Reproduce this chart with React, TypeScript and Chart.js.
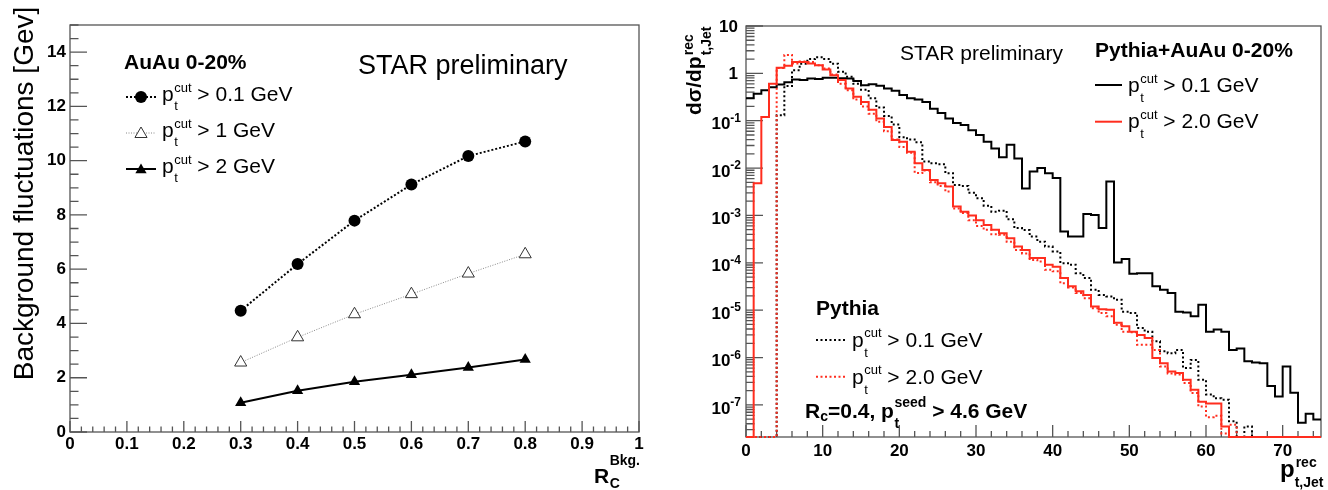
import { useEffect, useRef } from 'react';
import { Chart, registerables } from 'chart.js';

Chart.register(...registerables);

const SANS = '"Liberation Sans", Arial, Helvetica, sans-serif';
const font = (size: number, bold = false) => `${bold ? 'bold ' : ''}${size}px ${SANS}`;

const FRAME = '#555555';
const RED = '#ff2d1e';
const PANEL_W = 664;
const RIGHT_X0 = 664;

// ---------- left panel: background fluctuations vs R_C ----------
const rcBkg = [0.3, 0.4, 0.5, 0.6, 0.7, 0.8];
const fluctCut01 = [4.47, 6.19, 7.79, 9.12, 10.17, 10.71];
const fluctCut1 = [2.56, 3.49, 4.34, 5.08, 5.84, 6.55];
const fluctCut2 = [1.08, 1.52, 1.85, 2.11, 2.38, 2.67];
const rcTicks = [0, 0.1, 0.2, 0.3, 0.4, 0.5, 0.6, 0.7, 0.8, 0.9, 1];
const rcTickLabels = ['0', '0.1', '0.2', '0.3', '0.4', '0.5', '0.6', '0.7', '0.8', '0.9', '1'];
const fluctTicks = [0, 2, 4, 6, 8, 10, 12, 14];

// ---------- right panel: reconstructed jet pt spectra, 1 GeV bins ----------
const ptBinEdges = Array.from({ length: 76 }, (_, i) => i);
const auauCut01 = [
  0.30, 0.37, 0.44, 0.51, 0.58, 0.65, 0.74, 0.72, 0.78, 0.76,
  0.81, 0.81, 0.79, 0.78, 0.69, 0.56, 0.59, 0.55, 0.48, 0.43,
  0.35, 0.30, 0.28, 0.25, 0.18, 0.145, 0.112, 0.089, 0.081, 0.063,
  0.050, 0.036, 0.026, 0.017, 0.031, 0.016, 0.0037, 0.0085, 0.010, 0.0078,
  0.0062, 4.6e-4, 3.6e-4, 3.6e-4, 1.07e-3, 1.02e-3, 5.4e-4, 5.2e-3, 1.02e-4, 1.2e-4,
  5.9e-5, 6.0e-5, 6.0e-5, 3.2e-5, 2.7e-5, 2.3e-5, 9.3e-6, 8.9e-6, 7.4e-6, 1.3e-5,
  3.5e-6, 3.9e-6, 3.5e-6, 1.45e-6, 1.55e-6, 8.3e-7, 7.9e-7, 7.6e-7, 2.5e-7, 1.5e-7,
  6.5e-7, 1.8e-7, 4.2e-8, 6.5e-8, 4.9e-8,
];
const auauCut2 = [
  0, 4.8e-3, 0.12, 0.60, 1.32, 1.45, 1.74, 1.74, 1.62, 1.48,
  1.20, 0.91, 0.72, 0.48, 0.32, 0.25, 0.17, 0.112, 0.074, 0.039,
  0.036, 0.022, 0.0126, 0.0091, 0.0056, 0.0048, 0.0041, 0.00155, 0.0012, 0.0010,
  7.9e-4, 6.3e-4, 5.0e-4, 4.2e-4, 3.3e-4, 2.2e-4, 1.86e-4, 1.26e-4, 1.26e-4, 9.1e-5,
  8.3e-5, 4.8e-5, 3.2e-5, 2.5e-5, 2.1e-5, 1.2e-5, 1.05e-5, 1.02e-5, 5.4e-6, 4.6e-6,
  3.5e-6, 3.0e-6, 2.6e-6, 9.8e-7, 7.6e-7, 5.1e-7, 4.7e-7, 3.4e-7, 2.1e-7, 1.17e-7,
  1.07e-7, 1.07e-7, 3.5e-8, 0, 0, 0, 0, 0, 0, 0,
  0, 0, 0, 0, 0,
];
const pythiaCut01 = [
  0, 0, 0, 0, 0.13, 0.54, 1.17, 1.6, 2.0, 2.2,
  2.0, 1.6, 1.08, 0.85, 0.60, 0.45, 0.30, 0.19, 0.126, 0.083,
  0.045, 0.040, 0.035, 0.0138, 0.0126, 0.012, 0.0078, 0.0044, 0.0042, 0.0030,
  0.0023, 0.0016, 0.0012, 0.00126, 8.3e-4, 5.4e-4, 4.9e-4, 3.6e-4, 2.8e-4, 2.2e-4,
  1.74e-4, 9.8e-5, 9.1e-5, 6.0e-5, 4.8e-5, 2.7e-5, 2.1e-5, 1.95e-5, 1.66e-5, 9.3e-6,
  8.7e-6, 4.2e-6, 3.5e-6, 2.2e-6, 1.35e-6, 1.23e-6, 1.45e-6, 6.0e-7, 8.9e-7, 3.4e-7,
  1.66e-7, 1.38e-7, 1.29e-7, 4.5e-8, 0, 3.5e-8, 0, 0, 0, 0,
  0, 0, 0, 0, 0,
];
const pythiaCut2 = [
  0, 0, 0, 0, 1.29, 2.45, 1.62, 1.78, 1.74, 1.48,
  1.26, 0.95, 0.60, 0.44, 0.28, 0.20, 0.141, 0.095, 0.060, 0.040,
  0.028, 0.021, 0.0079, 0.0089, 0.0050, 0.0042, 0.0032, 0.00141, 0.00112, 7.9e-4,
  6.0e-4, 5.0e-4, 4.0e-4, 3.9e-4, 2.8e-4, 1.86e-4, 1.58e-4, 1.15e-4, 1.07e-4, 7.1e-5,
  6.6e-5, 3.7e-5, 3.0e-5, 2.3e-5, 1.78e-5, 1.1e-5, 8.7e-6, 7.4e-6, 4.9e-6, 3.5e-6,
  3.4e-6, 1.86e-6, 1.86e-6, 1.45e-6, 6.5e-7, 4.6e-7, 4.4e-7, 2.9e-7, 1.78e-7, 9.3e-8,
  5.5e-8, 5.9e-8, 2.5e-8, 3.8e-8, 0, 0, 0, 0, 0, 0,
  0, 0, 0, 0, 0,
];
const ptTicks = [0, 10, 20, 30, 40, 50, 60, 70];
const decadeExponents = [1, 0, -1, -2, -3, -4, -5, -6, -7];

const Y_LOG_MIN = 2.1e-8;
const Y_LOG_MAX = 10;

// histogram outline: one point per lower bin edge plus the closing edge;
// empty bins sit on the bottom of the frame
const stepPoints = (vals: number[]) => {
  const pts = vals.map((v, i) => ({ x: ptBinEdges[i], y: v > 0 ? v : Y_LOG_MIN }));
  pts.push({ x: ptBinEdges[vals.length], y: pts[pts.length - 1].y });
  return pts;
};

// ---------- drawing helpers ----------
function text(ctx: CanvasRenderingContext2D, s: string, x: number, y: number, f: string,
  align: CanvasTextAlign = 'left', base: CanvasTextBaseline = 'alphabetic') {
  ctx.font = f;
  ctx.textAlign = align;
  ctx.textBaseline = base;
  ctx.fillText(s, x, y);
  return ctx.measureText(s).width;
}

// "p" with a superscript and subscript stacked after it, then the rest of the line
function ptLabel(ctx: CanvasRenderingContext2D, x: number, y: number, sup: string, sub: string,
  tail: string, size: number, bold: boolean, scriptSize: number, raise: number, drop: number) {
  ctx.fillStyle = '#000';
  let cx = x + text(ctx, 'p', x, y, font(size, bold)) + 0.5;
  const w1 = text(ctx, sup, cx, y - raise, font(scriptSize, bold));
  const w2 = text(ctx, sub, cx, y + drop, font(scriptSize, bold));
  cx += Math.max(w1, w2);
  text(ctx, tail, cx, y, font(size, bold));
}

function triangle(ctx: CanvasRenderingContext2D, cx: number, cy: number, r: number) {
  ctx.beginPath();
  ctx.moveTo(cx, cy - r);
  ctx.lineTo(cx + 0.866 * r, cy + 0.5 * r);
  ctx.lineTo(cx - 0.866 * r, cy + 0.5 * r);
  ctx.closePath();
}

function frameAndTicks(chart: any, xMajor: number[], xMinor: number[], yMajor: number[], yMinor: number[],
  xLen: number, yLen: number) {
  const { ctx, chartArea: a, scales } = chart;
  const xs = scales.x;
  const ys = scales.y;
  ctx.save();
  ctx.strokeStyle = FRAME;
  ctx.lineWidth = 1.3;
  ctx.setLineDash([]);
  ctx.strokeRect(a.left, a.top, a.right - a.left, a.bottom - a.top);
  ctx.beginPath();
  xMajor.forEach((v) => { const p = xs.getPixelForValue(v); ctx.moveTo(p, a.bottom); ctx.lineTo(p, a.bottom - xLen); });
  xMinor.forEach((v) => { const p = xs.getPixelForValue(v); ctx.moveTo(p, a.bottom); ctx.lineTo(p, a.bottom - xLen / 2); });
  yMajor.forEach((v) => { const p = ys.getPixelForValue(v); ctx.moveTo(a.left, p); ctx.lineTo(a.left + yLen, p); });
  yMinor.forEach((v) => { const p = ys.getPixelForValue(v); ctx.moveTo(a.left, p); ctx.lineTo(a.left + yLen / 2, p); });
  ctx.stroke();
  ctx.restore();
}

const range = (from: number, to: number, step: number) => {
  const out: number[] = [];
  for (let v = from; v <= to + 1e-9; v += step) out.push(Math.round(v * 1000) / 1000);
  return out;
};

// ---------- left chart ----------
const leftDecor = {
  id: 'leftDecor',
  beforeDatasetsDraw(chart: any) {
    frameAndTicks(chart, rcTicks, range(0, 1, 0.02), fluctTicks, range(0, 15, 0.5), 11, 17);
  },
  afterDatasetsDraw(chart: any) {
    const { ctx, chartArea: a, scales } = chart;
    ctx.save();
    ctx.fillStyle = '#000';
    rcTicks.forEach((v, i) => text(ctx, rcTickLabels[i], scales.x.getPixelForValue(v), 444, font(17, true), 'center', 'middle'));
    fluctTicks.forEach((v) => text(ctx, String(v), a.left - 4, scales.y.getPixelForValue(v), font(17, true), 'right', 'middle'));

    // y axis title
    ctx.save();
    ctx.translate(33, 193.5);
    ctx.rotate(-Math.PI / 2);
    text(ctx, 'Background fluctuations [Gev]', 0, 0, font(28), 'center');
    ctx.restore();

    // x axis title R_C^Bkg.
    const rw = text(ctx, 'R', 594, 483, font(21, true));
    text(ctx, 'Bkg.', 594 + rw + 0.5, 465, font(14, true));
    text(ctx, 'C', 594 + rw + 0.5, 488, font(14, true));

    text(ctx, 'STAR preliminary', 358, 74, font(27));
    text(ctx, 'AuAu 0-20%', 124, 69, font(21, true));

    // legend
    const rows = [97, 133, 169];
    const x0 = 126, x1 = 156, mx = 141;
    // row 1
    ctx.strokeStyle = '#000'; ctx.lineWidth = 2; ctx.setLineDash([2, 2]);
    ctx.beginPath(); ctx.moveTo(x0, rows[0]); ctx.lineTo(x1, rows[0]); ctx.stroke();
    ctx.setLineDash([]);
    ctx.beginPath(); ctx.arc(mx, rows[0], 6, 0, Math.PI * 2); ctx.fillStyle = '#000'; ctx.fill();
    // row 2
    ctx.strokeStyle = '#888'; ctx.lineWidth = 1; ctx.setLineDash([1, 1.5]);
    ctx.beginPath(); ctx.moveTo(x0, rows[1]); ctx.lineTo(x1, rows[1]); ctx.stroke();
    ctx.setLineDash([]);
    triangle(ctx, mx, rows[1] + 1, 7); ctx.fillStyle = '#fff'; ctx.fill(); ctx.strokeStyle = '#333'; ctx.lineWidth = 1; ctx.stroke();
    // row 3
    ctx.strokeStyle = '#000'; ctx.lineWidth = 2;
    ctx.beginPath(); ctx.moveTo(x0, rows[2]); ctx.lineTo(x1, rows[2]); ctx.stroke();
    triangle(ctx, mx, rows[2] + 1, 6.5); ctx.fillStyle = '#000'; ctx.fill();

    ptLabel(ctx, 162, rows[0] + 4, 'cut', 't', ' > 0.1 GeV', 21, false, 13, 9, 9);
    ptLabel(ctx, 162, rows[1] + 4, 'cut', 't', ' > 1 GeV', 21, false, 13, 9, 9);
    ptLabel(ctx, 162, rows[2] + 4, 'cut', 't', ' > 2 GeV', 21, false, 13, 9, 9);
    ctx.restore();
  },
};

function leftConfig(): any {
  const pts = (ys: number[]) => rcBkg.map((x, i) => ({ x, y: ys[i] }));
  return {
    type: 'line',
    data: {
      datasets: [
        {
          data: pts(fluctCut01), borderColor: '#000', borderWidth: 2, borderDash: [2, 2],
          pointStyle: 'circle', pointRadius: 6, pointBackgroundColor: '#000', pointBorderColor: '#000', pointBorderWidth: 0,
        },
        {
          data: pts(fluctCut1), borderColor: '#888', borderWidth: 1, borderDash: [1, 1.5],
          pointStyle: 'triangle', pointRadius: 7, pointBackgroundColor: '#fff', pointBorderColor: '#333', pointBorderWidth: 1,
        },
        {
          data: pts(fluctCut2), borderColor: '#000', borderWidth: 2,
          pointStyle: 'triangle', pointRadius: 6.5, pointBackgroundColor: '#000', pointBorderColor: '#000', pointBorderWidth: 0,
        },
      ],
    },
    options: {
      animation: false, responsive: false, devicePixelRatio: 1, events: [],
      layout: { padding: { left: 70, top: 25, right: PANEL_W - 639, bottom: 490 - 432 } },
      plugins: { legend: { display: false }, tooltip: { enabled: false } },
      scales: {
        x: { type: 'linear', min: 0, max: 1, display: false },
        y: { type: 'linear', min: 0, max: 15, display: false },
      },
    },
    plugins: [leftDecor],
  };
}

// ---------- right chart ----------
const logMinor: number[] = [];
for (let e = -8; e <= 0; e++) {
  for (let m = 2; m <= 9; m++) {
    const v = m * Math.pow(10, e);
    if (v >= Y_LOG_MIN && v <= Y_LOG_MAX) logMinor.push(v);
  }
}

const rightDecor = {
  id: 'rightDecor',
  beforeDatasetsDraw(chart: any) {
    frameAndTicks(chart, ptTicks, range(0, 74, 2), decadeExponents.map((e) => Math.pow(10, e)), logMinor, 12, 17);
  },
  afterDatasetsDraw(chart: any) {
    const { ctx, scales } = chart;
    ctx.save();
    ctx.translate(-RIGHT_X0, 0);
    ctx.fillStyle = '#000';
    ptTicks.forEach((v) => text(ctx, String(v), scales.x.getPixelForValue(v) + RIGHT_X0, 451, font(17, true), 'center', 'middle'));
    decadeExponents.forEach((e) => {
      const py = scales.y.getPixelForValue(Math.pow(10, e));
      if (e === 1) text(ctx, '10', 738, py + 1, font(17, true), 'right', 'middle');
      else if (e === 0) text(ctx, '1', 738, py + 1, font(17, true), 'right', 'middle');
      else {
        ctx.font = font(12, true);
        const ex = String(e);
        const w = ctx.measureText(ex).width;
        text(ctx, '10', 741 - w, py + 4, font(17, true), 'right', 'middle');
        text(ctx, ex, 741 - w, py - 2, font(12, true), 'left', 'middle');
      }
    });

    // y axis title
    ctx.save();
    ctx.translate(701, 115);
    ctx.rotate(-Math.PI / 2);
    const mw = text(ctx, 'dσ/dp', 0, 0, font(21, true));
    text(ctx, 'rec', mw + 1, -8, font(14, true));
    text(ctx, 't,Jet', mw + 1, 10, font(14, true));
    ctx.restore();

    // x axis title
    const pw = text(ctx, 'p', 1280, 477, font(24, true));
    text(ctx, 'rec', 1280 + pw + 1, 467, font(14, true));
    text(ctx, 't,Jet', 1280 + pw, 487, font(14, true));

    text(ctx, 'STAR preliminary', 900, 60, font(21));
    text(ctx, 'Pythia+AuAu 0-20%', 1095, 57, font(21, true));

    // top legend
    const topRows = [85, 121.7];
    ctx.setLineDash([]);
    ctx.lineWidth = 2;
    ctx.strokeStyle = '#000';
    ctx.beginPath(); ctx.moveTo(1095, topRows[0]); ctx.lineTo(1122, topRows[0]); ctx.stroke();
    ctx.strokeStyle = RED;
    ctx.beginPath(); ctx.moveTo(1095, topRows[1]); ctx.lineTo(1122, topRows[1]); ctx.stroke();
    ptLabel(ctx, 1128, topRows[0] + 6.5, 'cut', 't', ' > 0.1 GeV', 21, false, 13, 9, 10);
    ptLabel(ctx, 1128, topRows[1] + 6.5, 'cut', 't', ' > 2.0 GeV', 21, false, 13, 9, 10);

    // bottom legend
    text(ctx, 'Pythia', 816, 315, font(21, true));
    const botRows = [340, 376.7];
    ctx.lineWidth = 2;
    ctx.setLineDash([2, 2.5]);
    ctx.strokeStyle = '#000';
    ctx.beginPath(); ctx.moveTo(816, botRows[0]); ctx.lineTo(846, botRows[0]); ctx.stroke();
    ctx.strokeStyle = RED;
    ctx.beginPath(); ctx.moveTo(816, botRows[1]); ctx.lineTo(846, botRows[1]); ctx.stroke();
    ctx.setLineDash([]);
    ptLabel(ctx, 852, botRows[0] + 7, 'cut', 't', ' > 0.1 GeV', 21, false, 13, 10, 10);
    ptLabel(ctx, 852, botRows[1] + 7, 'cut', 't', ' > 2.0 GeV', 21, false, 13, 10, 10);

    // jet definition
    let cx = 805;
    cx += text(ctx, 'R', cx, 418, font(21, true));
    cx += text(ctx, 'c', cx, 421, font(14, true));
    cx += text(ctx, '=0.4, ', cx, 418, font(21, true));
    ptLabel(ctx, cx, 418, 'seed', 't', ' > 4.6 GeV', 21, true, 14, 11, 10);
    ctx.restore();
  },
};

function rightConfig(): any {
  const hist = (vals: number[], color: string, dashed: boolean, order: number) => ({
    data: stepPoints(vals),
    borderColor: color,
    borderWidth: 2,
    borderDash: dashed ? [2, 2.5] : [],
    stepped: 'before',
    pointRadius: 0,
    fill: false,
    order,
    clip: { left: 0, top: 0, right: 0, bottom: 2 },
  });
  return {
    type: 'line',
    data: {
      datasets: [
        hist(auauCut01, '#000', false, 3),
        hist(pythiaCut01, '#000', true, 2),
        hist(pythiaCut2, RED, true, 1),
        hist(auauCut2, RED, false, 0),
      ],
    },
    options: {
      animation: false, responsive: false, devicePixelRatio: 1, events: [],
      layout: { padding: { left: 82, top: 26, right: 7, bottom: 53 } },
      plugins: { legend: { display: false }, tooltip: { enabled: false } },
      scales: {
        x: { type: 'linear', min: 0, max: 75, display: false },
        y: { type: 'logarithmic', min: Y_LOG_MIN, max: Y_LOG_MAX, display: false },
      },
    },
    plugins: [rightDecor],
  };
}

export default function App() {
  const leftRef = useRef<HTMLCanvasElement>(null);
  const rightRef = useRef<HTMLCanvasElement>(null);

  useEffect(() => {
    const left = new Chart(leftRef.current as HTMLCanvasElement, leftConfig());
    const right = new Chart(rightRef.current as HTMLCanvasElement, rightConfig());
    return () => {
      left.destroy();
      right.destroy();
    };
  }, []);

  return (
    <div style={{ position: 'absolute', left: 0, top: 0, width: 1328, height: 490, background: '#fff', overflow: 'hidden' }}>
      <canvas ref={leftRef} width={PANEL_W} height={490} style={{ position: 'absolute', left: 0, top: 0, width: PANEL_W, height: 490 }} />
      <canvas ref={rightRef} width={PANEL_W} height={490} style={{ position: 'absolute', left: RIGHT_X0, top: 0, width: PANEL_W, height: 490 }} />
    </div>
  );
}
